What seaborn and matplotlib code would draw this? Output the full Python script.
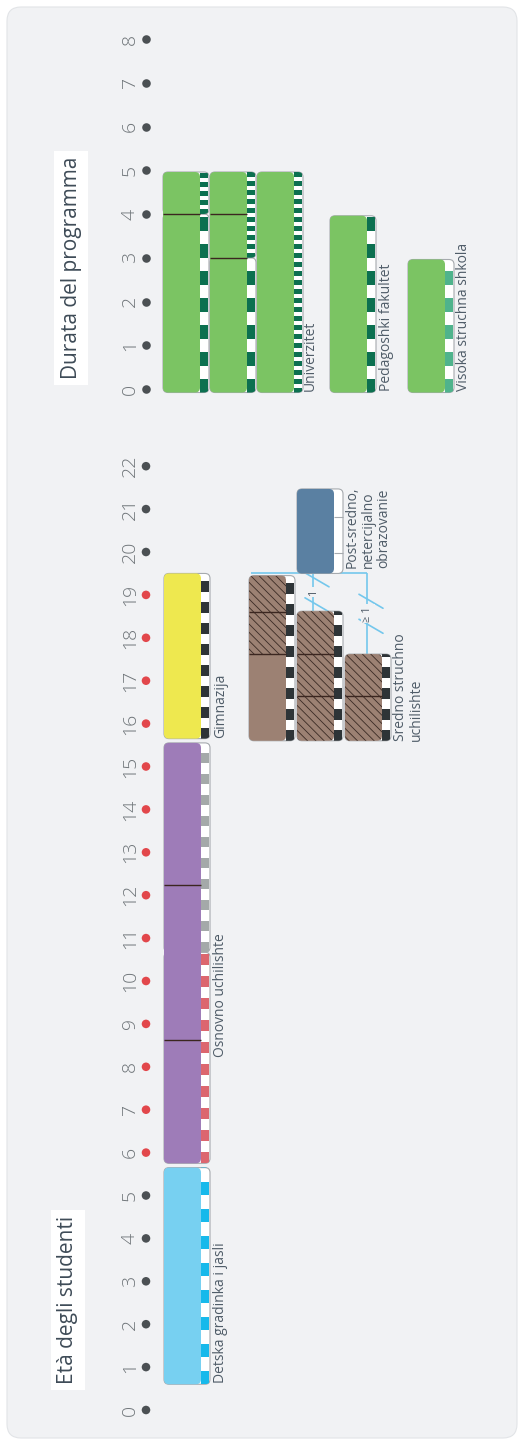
import matplotlib
matplotlib.use('Agg')
import matplotlib.pyplot as plt
from matplotlib.patches import FancyBboxPatch
import numpy as np
import pandas as pd
import seaborn as sns

#%% data
age_ticks = list(range(0, 23))
compulsory_ages = list(range(6, 20))
dur_ticks = list(range(0, 9))

# programmes on the age scale (start / end age as drawn)
age_names = ['Detska gradinka i jasli', 'Osnovno uchilishte', 'Gimnazija',
             'Sredno struchno uchilishte A', 'Sredno struchno uchilishte B',
             'Sredno struchno uchilishte C', 'Post-sredno, netercijalno obrazovanie']
age_from = [0.6, 5.75, 15.65, 15.6, 15.6, 15.6, 19.5]
age_to = [5.65, 15.55, 19.5, 19.45, 18.62, 17.62, 21.47]
age_lines = [[], [8.62, 12.24], [], [17.62, 18.6], [16.64, 17.62], [16.64], []]
age_workbased_from = [None, None, None, 17.62, 15.6, 15.6, None]
age_levels = [
    [(0.6, 5.65, 'isced0')],
    [(5.75, 10.67, 'isced1'), (10.67, 15.55, 'isced2')],
    [(15.65, 19.5, 'isced3')],
    [(15.6, 19.45, 'isced3')],
    [(15.6, 18.62, 'isced3')],
    [(15.6, 17.62, 'isced3')],
    [(19.5, 21.47, 'isced4')],
]
age_year_breaks = [[], [], [], [], [], [], [19.98, 20.82]]
age_labels = ['Detska gradinka i jasli', 'Osnovno uchilishte', 'Gimnazija',
              'Sredno struchno\nuchilishte', 'Post-sredno,\nnetercijalno\nobrazovanie']
age_label_at = [0.63, 8.23, 15.66, 15.6, 19.63]

# transitions into post-secondary (extra years required)
bridge_labels = ['1', '≥ 1']

# programmes on the duration scale
dur_names = ['Univerzitet A', 'Univerzitet B', 'Univerzitet', 'Pedagoshki fakultet',
             'Visoka struchna shkola']
dur_years = [5, 5, 5, 4, 3]
dur_lines = [[4], [3, 4], [], [], []]
dur_levels = [
    [(0, 4, 'isced6'), (4, 5, 'isced7')],
    [(0, 3, 'isced6'), (3, 5, 'isced7')],
    [(0, 5, 'isced7')],
    [(0, 4, 'isced6')],
    [(0, 3, 'isced5')],
]
dur_labels = ['Univerzitet', 'Pedagoshki fakultet', 'Visoka struchna shkola']

#%% layout / style
W, H = 521, 1442
AGE0_PY, AGE_PPU = 1410, 42.9
DUR0_PY, DUR_PPU = 389, 43.75
DOT_X = 146
BODY_W, BAR_W, RAD = 37, 46, 5
age_x = [164, 164, 164, 249, 297, 345, 297]
age_label_x = [213, 213, 213, 393, 345]
dur_x = [163, 210, 257, 330, 408]
dur_label_x = [303, 379, 456]
dur_offset = -0.08

age_colors = ['#77d0f1', '#9e7cb8', '#eee84f', '#9c8173', '#9c8173', '#9c8173', '#5a80a2']
dur_colors = ['#7bc463'] * 5
level_style = {
    'isced0': ('#17b9eb', 27), 'isced1': ('#dc666f', 22), 'isced2': ('#a4a9a9', 21),
    'isced3': ('#2e3437', 21), 'isced4': (None, 21), 'isced5': ('#4fb38c', 27),
    'isced6': ('#0c7050', 27), 'isced7': ('#0c7050', 9),
}
PANEL = '#f1f2f4'
TEXT = '#4f5c68'
CONN = '#74c7ec'
EDGE = '#a6aaae'

sns.set_style('white')
plt.rcParams['font.family'] = ['Open Sans', 'DejaVu Sans']
plt.rcParams['hatch.linewidth'] = 0.6


def draw_programme(ax, x0, y0, y1, body, levels, lines, ppu, hatch_from=None, breaks=()):
    asp = 1 / ppu
    for s0, s1, kind in levels:
        box = FancyBboxPatch((x0, s0), BAR_W, s1 - s0,
                             boxstyle=f'round,pad=0,rounding_size={RAD}',
                             mutation_aspect=asp, fc='white', ec=EDGE, lw=0.8, zorder=2)
        ax.add_patch(box)
        col, period = level_style[kind]
        if col is None:
            continue
        step = period / ppu
        starts = np.arange(s0, s1, step)
        dashes = ax.bar(np.full(len(starts), x0 + BODY_W), step / 2, width=BAR_W - BODY_W - 1,
                        bottom=starts, align='edge', color=col, lw=0, zorder=3)
        for d in dashes:
            d.set_clip_path(box)
    if len(breaks):
        ax.hlines(breaks, x0 + BODY_W, x0 + BAR_W, color=EDGE, lw=0.8, zorder=3)
    main = FancyBboxPatch((x0, y0), BODY_W, y1 - y0,
                          boxstyle=f'round,pad=0,rounding_size={RAD}',
                          mutation_aspect=asp, fc=body, ec='none', zorder=5)
    ax.add_patch(main)
    if hatch_from is not None:
        h = ax.bar(x0, y1 - hatch_from, width=BODY_W, bottom=hatch_from, align='edge',
                   facecolor='none', edgecolor='#3a2a24', hatch='\\\\\\\\', lw=0, zorder=6)
        h[0].set_clip_path(main)
    if lines:
        ax.hlines(lines, x0, x0 + BODY_W, color='#3b2620', lw=1, zorder=7)


def setup_scale(ax, ticks, zero_py, ppu):
    ax.set_xlim(DOT_X, W)
    ax.set_ylim((zero_py - H) / ppu, zero_py / ppu)
    ax.set_xticks([])
    ax.set_yticks(ticks, labels=[str(t) for t in ticks])
    ax.tick_params(axis='y', length=0, pad=5, labelsize=14, labelcolor='#6f7579',
                   labelrotation=90)
    for lbl in ax.get_yticklabels():
        lbl.set_va('center')
        lbl.set_fontweight('light')
    for s in ax.spines.values():
        s.set_visible(False)


#%% figure
fig = plt.figure(figsize=(W / 100, H / 100), dpi=100)
bg = fig.add_axes([0, 0, 1, 1])
bg.set_xlim(0, W)
bg.set_ylim(H, 0)
bg.axis('off')
bg.add_patch(FancyBboxPatch((7, 7), 510, 1431, boxstyle='round,pad=0,rounding_size=14',
                            fc=PANEL, ec='#e2e4e7', lw=0.8))
bg.text(68, 1300, 'Età degli studenti', rotation=90, ha='center', va='center',
        fontsize=15, color='#3e4b57',
        bbox=dict(boxstyle='square,pad=0.3', fc='white', ec='none'))
bg.text(71, 268, 'Durata del programma', rotation=90, ha='center', va='center',
        fontsize=15, color='#3e4b57',
        bbox=dict(boxstyle='square,pad=0.3', fc='white', ec='none'))

left = DOT_X / W
ax_age = fig.add_axes([left, 0, 1 - left, 1], facecolor='none')
ax_dur = fig.add_axes([left, 0, 1 - left, 1], facecolor='none')

# age section
for i in range(len(age_names)):
    draw_programme(ax_age, age_x[i], age_from[i], age_to[i], age_colors[i],
                   age_levels[i], age_lines[i], AGE_PPU, age_workbased_from[i],
                   age_year_breaks[i])

for txt, lx, ly in zip(age_labels, age_label_x, age_label_at):
    ax_age.text(lx, ly, txt, rotation=90, ha='left', va='bottom', multialignment='left',
                fontsize=10, color=TEXT, linespacing=1.05, zorder=8)

# transitions to post-secondary
top = age_from[6]
ax_age.hlines(top, age_x[3] + 2, age_x[5] + 22, color=CONN, lw=1.2, zorder=1)
bridge_x = [age_x[4] + 16, age_x[5] + 22]
bridge_end = [age_to[4], age_to[5]]
ax_age.vlines(bridge_x, bridge_end, top, color=CONN, lw=1.2, zorder=1)
for bx, be, lab in zip(bridge_x, bridge_end, bridge_labels):
    mid = (top + be) / 2
    for off in (12.5, -12.5):
        cy = mid + off / AGE_PPU
        ax_age.plot([bx - 8, bx + 16], [cy + 7 / AGE_PPU, cy - 7 / AGE_PPU],
                    color=CONN, lw=1.2, zorder=1)
    ax_age.text(bx + 1, mid, lab, rotation=90, ha='center', va='center', fontsize=8,
                color=TEXT, zorder=8,
                bbox=dict(boxstyle='square,pad=0.15', fc=PANEL, ec='none'))

dots = pd.DataFrame({'x': DOT_X, 'age': age_ticks,
                     'comp': ['yes' if a in compulsory_ages else 'no' for a in age_ticks]})
sns.scatterplot(data=dots, x='x', y='age', hue='comp',
                palette={'yes': '#e2474b', 'no': '#4b5053'}, s=38, linewidth=0,
                legend=False, ax=ax_age, clip_on=False, zorder=9)
setup_scale(ax_age, age_ticks, AGE0_PY, AGE_PPU)
ax_age.set_xlabel('')
ax_age.set_ylabel('')

# duration section
for i in range(len(dur_names)):
    draw_programme(ax_dur, dur_x[i], dur_offset, dur_years[i] + dur_offset / 2,
                   dur_colors[i],
                   [(a + (dur_offset if a == 0 else 0), b + (dur_offset / 2 if b == dur_years[i] else 0), k)
                    for a, b, k in dur_levels[i]],
                   dur_lines[i], DUR_PPU)

for txt, lx in zip(dur_labels, dur_label_x):
    ax_dur.text(lx, dur_offset + 0.03, txt, rotation=90, ha='left', va='bottom',
                fontsize=10, color=TEXT, zorder=8)

ddots = pd.DataFrame({'x': DOT_X, 'yrs': dur_ticks})
sns.scatterplot(data=ddots, x='x', y='yrs', color='#4b5053', s=38, linewidth=0,
                legend=False, ax=ax_dur, clip_on=False, zorder=9)
setup_scale(ax_dur, dur_ticks, DUR0_PY, DUR_PPU)
ax_dur.set_xlabel('')
ax_dur.set_ylabel('')

fig.savefig('out.png', dpi=100)
